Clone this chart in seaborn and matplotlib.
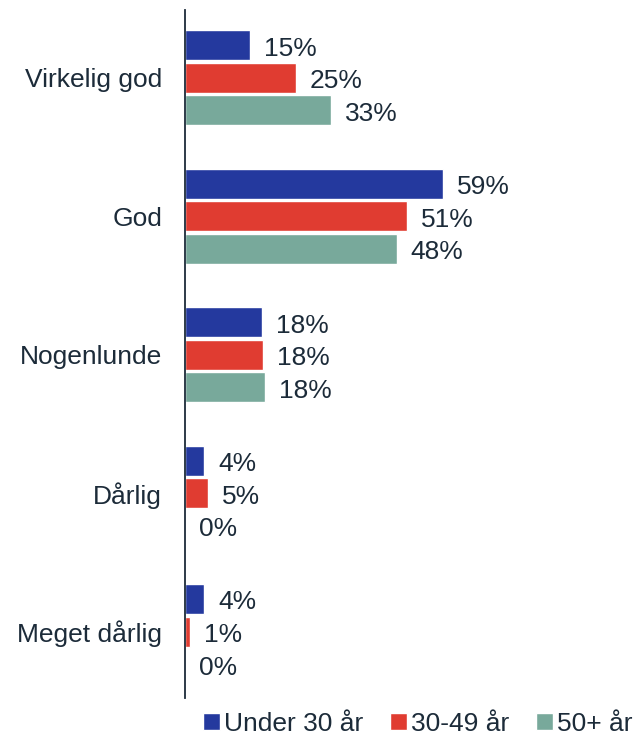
import pandas as pd
import matplotlib
matplotlib.use("Agg")
import matplotlib.pyplot as plt
import seaborn as sns

# data
categories = ["Virkelig god", "God", "Nogenlunde", "Dårlig", "Meget dårlig"]
groups = ["Under 30 år", "30-49 år", "50+ år"]
under_30 = [14.9, 59.0, 17.6, 4.4, 4.4]
age_30_49 = [25.3, 50.8, 17.8, 5.3, 1.1]
age_50_plus = [33.4, 48.4, 18.3, 0.0, 0.0]
colors = ["#24399e", "#e03c31", "#78a99b"]

text_color = "#1c2b39"

# long form table for seaborn
rows = []
for grp, vals in zip(groups, [under_30, age_30_49, age_50_plus]):
    for cat, v in zip(categories, vals):
        rows.append({"kategori": cat, "gruppe": grp, "andel": v})
df = pd.DataFrame(rows)

sns.set_style("white")
plt.rcParams["font.family"] = ["Liberation Sans", "DejaVu Sans"]

fig = plt.figure(figsize=(6.36, 7.35), dpi=100)
ax = fig.add_axes([185 / 636, 1 - 698 / 735, 1 - 185 / 636, 688 / 735])

sns.barplot(data=df, y="kategori", x="andel", hue="gruppe", order=categories,
            hue_order=groups, palette=colors, orient="h", width=0.705, gap=0.08,
            saturation=1, ax=ax)

# value labels to the right of the bars
for container in ax.containers:
    labels = ax.bar_label(container, fmt="{:.0f}%", padding=10, fontsize=19, color=text_color)
    for t in labels:
        # offset is in points, nudge a touch down like in the original
        t.set_y(t.get_position()[1] - 2.5)

# decorate
ax.set_xlim(0, 103)
ax.set_ylim(4.48, -0.49)
ax.set_xlabel("")
ax.set_ylabel("")
ax.set_xticks([])
ax.tick_params(axis="y", length=0, pad=16.5, labelsize=19, labelcolor=text_color)
for side in ["top", "right", "bottom"]:
    ax.spines[side].set_visible(False)
ax.spines["left"].set_color(text_color)
ax.spines["left"].set_linewidth(1.3)

# legend at the bottom
handles, labels = ax.get_legend_handles_labels()
ax.get_legend().remove()
fig.legend(handles, labels, loc="lower center", bbox_to_anchor=(0.657, -0.019),
           ncol=3, frameon=False, fontsize=19, handlelength=0.65, handleheight=0.65,
           handletextpad=0.15, columnspacing=1.0, borderpad=0, labelcolor=text_color)

plt.savefig("out.png", dpi=100)
plt.close()
